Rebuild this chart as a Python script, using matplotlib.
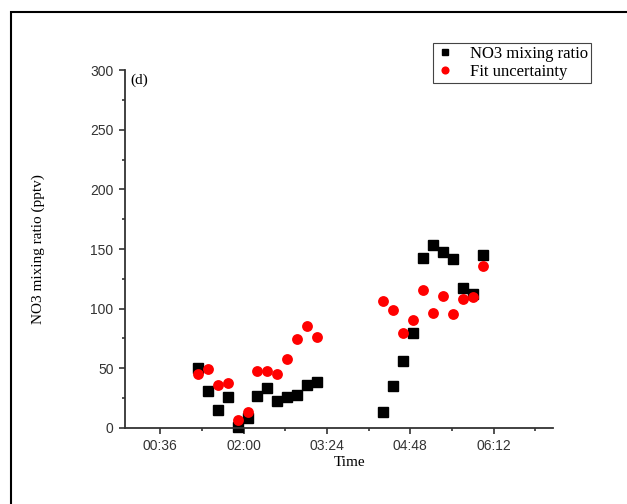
import matplotlib.pyplot as plt
import matplotlib.ticker as ticker
from matplotlib.patches import Rectangle

# measurement times (HH:MM) and values in pptv
times = ["01:14", "01:24", "01:34", "01:44", "01:54", "02:04", "02:14",
         "02:24", "02:34", "02:44", "02:54", "03:04", "03:14",
         "04:21", "04:31", "04:41", "04:51", "05:01", "05:11", "05:21",
         "05:31", "05:41", "05:51", "06:01"]
no3 = [50.5, 31.3, 14.8, 26.3, 1.1, 8.1, 27.1, 33.5, 22.9, 26.3, 27.7, 35.8, 38.3,
       13.7, 34.9, 55.9, 79.6, 142.2, 153.1, 147.8, 141.9, 117.6, 112.6, 145.0]
fit_unc = [45.3, 49.5, 36.0, 37.5, 6.7, 13.2, 48.0, 48.0, 45.0, 58.1, 74.6, 85.5, 76.5,
           106.7, 98.6, 79.6, 90.3, 115.9, 96.4, 110.9, 95.8, 108.4, 110.1, 135.8]

# time of day in minutes
minutes = [int(t[:2]) * 60 + int(t[3:]) for t in times]

serif = 'Liberation Serif'
sans = 'Liberation Sans'

fig = plt.figure(figsize=(6.27, 5.04), dpi=100)
fig.patch.set_facecolor('white')
ax = fig.add_axes([0.1987, 0.1508, 0.6833, 0.7103])

ax.plot(minutes, no3, 's', color='black', markersize=6.5, label='NO3 mixing ratio', clip_on=False)
ax.plot(minutes, fit_unc, 'o', color='red', markersize=7.8, markeredgewidth=0,
        label='Fit uncertainty', clip_on=False)

ax.set_xlim(0, 432)
ax.set_ylim(0, 300)

ax.xaxis.set_major_locator(ticker.MultipleLocator(84, offset=36))
ax.xaxis.set_minor_locator(ticker.MultipleLocator(42, offset=36))
ax.xaxis.set_major_formatter(ticker.FuncFormatter(
    lambda v, p: f"{int(round(v)) // 60:02d}:{int(round(v)) % 60:02d}"))
ax.yaxis.set_major_locator(ticker.MultipleLocator(50))
ax.yaxis.set_minor_locator(ticker.MultipleLocator(25))

for s in ['top', 'right']:
    ax.spines[s].set_visible(False)
for s in ['left', 'bottom']:
    ax.spines[s].set_linewidth(1.3)
    ax.spines[s].set_color('#333333')

ax.tick_params(which='major', direction='out', length=4.5, width=1.2, color='#333333',
               labelsize=10, pad=3.5)
ax.tick_params(which='minor', direction='out', length=2.5, width=1.2, color='#333333')
for lab in ax.get_xticklabels() + ax.get_yticklabels():
    lab.set_fontfamily(sans)
    lab.set_color('#333333')

ax.set_xlabel('Time', fontfamily=serif, fontsize=11)
ax.set_ylabel('NO3 mixing ratio (pptv)', fontfamily=serif, fontsize=11)
ax.xaxis.set_label_coords(0.526, -0.078)
ax.yaxis.set_label_coords(-0.186, 0.5)

ax.text(0.0126, 0.989, '(d)', transform=ax.transAxes, fontfamily=serif, fontsize=11,
        va='top', ha='left')

leg = ax.legend(loc='upper right', bbox_to_anchor=(1.089, 1.076), prop={'family': serif, 'size': 12},
                fancybox=False, framealpha=1, edgecolor='#444444', borderpad=0.2,
                labelspacing=0.1, handlelength=1.0, handletextpad=1.0, borderaxespad=0,
                markerscale=0.75)
leg.get_frame().set_linewidth(0.8)

# outer frame around the panel
fig.patches.append(Rectangle((11 / 627, -0.05), 1.1, 1 - 12 / 504 + 0.05,
                             transform=fig.transFigure, fill=False,
                             edgecolor='black', linewidth=1.5))

fig.savefig('out.png', dpi=100)
